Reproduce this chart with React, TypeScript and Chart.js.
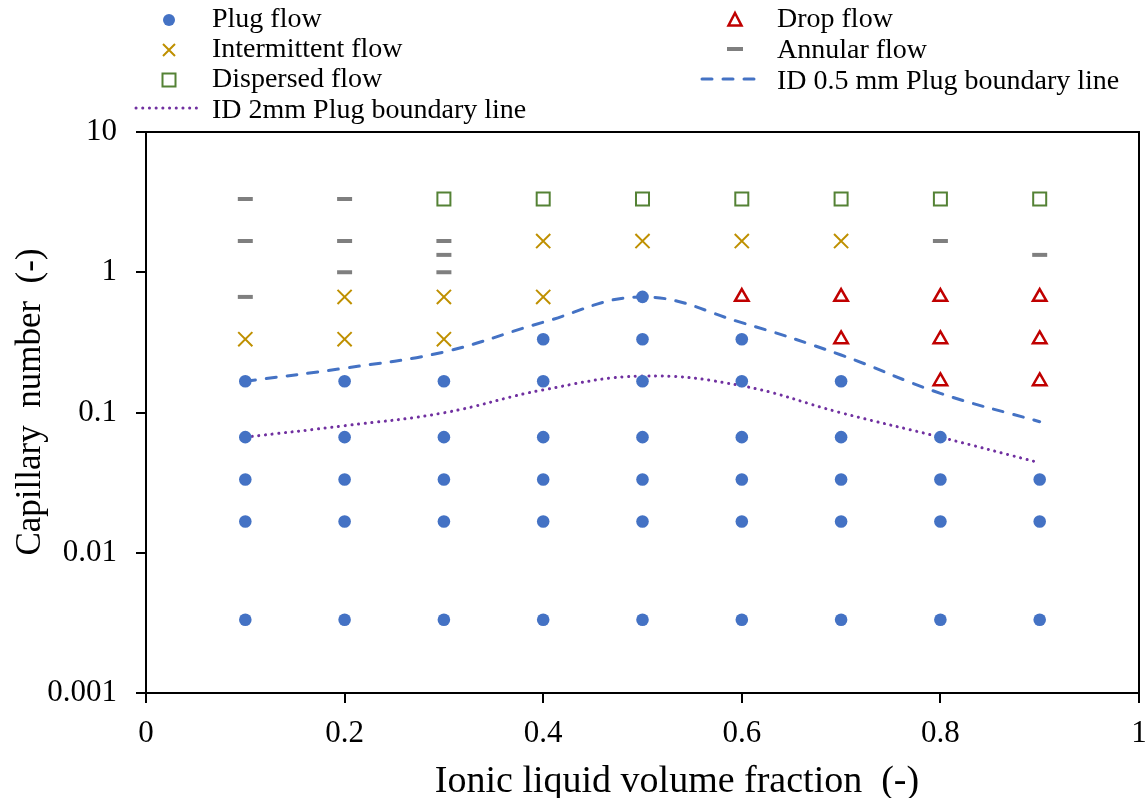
import React, { useEffect, useRef } from 'react';
import { Chart, registerables } from 'chart.js';

Chart.register(...registerables);

const FONT = "'Liberation Serif', 'Times New Roman', serif";

// Ionic liquid volume fractions (x categories)
const fractions = [0.1, 0.2, 0.3, 0.4, 0.5, 0.6, 0.7, 0.8, 0.9];

// Capillary numbers observed for each flow pattern, one list per fraction
const plugFlowCa = [
  [0.00333, 0.0167, 0.0333, 0.0667, 0.167],
  [0.00333, 0.0167, 0.0333, 0.0667, 0.167],
  [0.00333, 0.0167, 0.0333, 0.0667, 0.167],
  [0.00333, 0.0167, 0.0333, 0.0667, 0.167, 0.333],
  [0.00333, 0.0167, 0.0333, 0.0667, 0.167, 0.333, 0.667],
  [0.00333, 0.0167, 0.0333, 0.0667, 0.167, 0.333],
  [0.00333, 0.0167, 0.0333, 0.0667, 0.167],
  [0.00333, 0.0167, 0.0333, 0.0667],
  [0.00333, 0.0167, 0.0333],
];
const intermittentCa = [[0.333], [0.333, 0.667], [0.333, 0.667], [0.667, 1.67], [1.67], [1.67], [1.67], [], []];
const dispersedCa = [[], [], [3.33], [3.33], [3.33], [3.33], [3.33], [3.33], [3.33]];
const dropCa = [[], [], [], [], [], [0.667], [0.333, 0.667], [0.167, 0.333, 0.667], [0.167, 0.333, 0.667]];
const annularCa = [[0.667, 1.67, 3.33], [1.0, 1.67, 3.33], [1.0, 1.33, 1.67], [], [], [], [], [1.67], [1.33]];

// Boundary lines
const boundary05mm = [0.167, 0.207, 0.27, 0.44, 0.667, 0.437, 0.257, 0.137, 0.086];
const boundary2mm = [0.0667, 0.0805, 0.0995, 0.145, 0.182, 0.155, 0.0995, 0.0667, 0.0438];

// Axis ticks
const xTicks = [0, 0.2, 0.4, 0.6, 0.8, 1];
const yTicks = [0.001, 0.01, 0.1, 1, 10];

const COLORS = {
  plug: '#4472C4',
  intermittent: '#BF9000',
  dispersed: '#548235',
  drop: '#C00000',
  annular: '#7F7F7F',
  line05: '#4472C4',
  line2: '#7030A0',
};

const toPoints = (lists: number[][]) =>
  lists.flatMap((vals, i) => vals.map((v) => ({ x: fractions[i], y: v })));

const toLine = (vals: number[]) => vals.map((v, i) => ({ x: fractions[i], y: v }));

const framePlugin = {
  id: 'frame',
  beforeDatasetsDraw(chart: any) {
    const { ctx, chartArea: a } = chart;
    ctx.save();
    ctx.strokeStyle = '#000';
    ctx.lineWidth = 2;
    ctx.strokeRect(a.left, a.top, a.right - a.left, a.bottom - a.top);
    ctx.restore();
  },
};

const annotationsPlugin = {
  id: 'annotations',
  afterDraw(chart: any) {
    const ctx: CanvasRenderingContext2D = chart.ctx;
    ctx.save();
    // Axis titles
    ctx.fillStyle = '#000';
    ctx.textAlign = 'center';
    ctx.textBaseline = 'alphabetic';
    ctx.font = `38px ${FONT}`;
    ctx.fillText('Ionic liquid volume fraction  (-)', 677, 792);
    ctx.save();
    ctx.translate(40, 402);
    ctx.rotate(-Math.PI / 2);
    ctx.font = `35px ${FONT}`;
    ctx.fillText('Capillary  number  (-)', 0, 0);
    ctx.restore();

    // Legend
    ctx.font = `28px ${FONT}`;
    ctx.textAlign = 'left';
    const left = [
      { label: 'Plug flow', y: 27 },
      { label: 'Intermittent flow', y: 57 },
      { label: 'Dispersed flow', y: 87 },
      { label: 'ID 2mm Plug boundary line', y: 118 },
    ];
    const right = [
      { label: 'Drop flow', y: 27 },
      { label: 'Annular flow', y: 58 },
      { label: 'ID 0.5 mm Plug boundary line', y: 89 },
    ];
    left.forEach((e) => ctx.fillText(e.label, 212, e.y));
    right.forEach((e) => ctx.fillText(e.label, 777, e.y));

    // circle
    ctx.fillStyle = COLORS.plug;
    ctx.beginPath();
    ctx.arc(169, 20, 6, 0, Math.PI * 2);
    ctx.fill();
    // cross
    ctx.strokeStyle = COLORS.intermittent;
    ctx.lineWidth = 2;
    ctx.beginPath();
    ctx.moveTo(163, 44); ctx.lineTo(175, 56);
    ctx.moveTo(175, 44); ctx.lineTo(163, 56);
    ctx.stroke();
    // square
    ctx.strokeStyle = COLORS.dispersed;
    ctx.strokeRect(162.5, 73.5, 13, 13);
    // dotted line
    ctx.strokeStyle = COLORS.line2;
    ctx.lineWidth = 3;
    ctx.lineCap = 'round';
    ctx.setLineDash([0.1, 6.6]);
    ctx.beginPath();
    ctx.moveTo(136, 108); ctx.lineTo(201, 108);
    ctx.stroke();
    // dashed line
    ctx.strokeStyle = COLORS.line05;
    ctx.setLineDash([10, 11]);
    ctx.beginPath();
    ctx.moveTo(702, 79); ctx.lineTo(760, 79);
    ctx.stroke();
    ctx.setLineDash([]);
    // triangle
    ctx.strokeStyle = COLORS.drop;
    ctx.lineWidth = 2.5;
    ctx.lineCap = 'butt';
    ctx.beginPath();
    ctx.moveTo(735, 13); ctx.lineTo(741.5, 25.5); ctx.lineTo(728.5, 25.5); ctx.closePath();
    ctx.stroke();
    // annular dash
    ctx.strokeStyle = COLORS.annular;
    ctx.lineWidth = 4;
    ctx.beginPath();
    ctx.moveTo(727, 49); ctx.lineTo(743, 49);
    ctx.stroke();
    ctx.restore();
  },
};

export default function App() {
  const ref = useRef<HTMLCanvasElement>(null);

  useEffect(() => {
    if (!ref.current) return;
    const chart = new Chart(ref.current, {
      type: 'scatter',
      data: {
        datasets: [
          {
            label: 'Plug flow',
            data: toPoints(plugFlowCa),
            pointStyle: 'circle',
            pointRadius: 6.3,
            pointBorderWidth: 0,
            backgroundColor: COLORS.plug,
            borderColor: COLORS.plug,
          },
          {
            label: 'Intermittent flow',
            data: toPoints(intermittentCa),
            pointStyle: 'crossRot',
            pointRadius: 10,
            pointBorderWidth: 2,
            borderColor: COLORS.intermittent,
            backgroundColor: COLORS.intermittent,
          },
          {
            label: 'Dispersed flow',
            data: toPoints(dispersedCa),
            pointStyle: 'rect',
            pointRadius: 9.2,
            pointBorderWidth: 2,
            borderColor: COLORS.dispersed,
            backgroundColor: 'rgba(255,255,255,0)',
          },
          {
            label: 'Drop flow',
            data: toPoints(dropCa),
            pointStyle: 'triangle',
            pointRadius: 7.8,
            pointBorderWidth: 2.5,
            borderColor: COLORS.drop,
            backgroundColor: 'rgba(255,255,255,0)',
          },
          {
            label: 'Annular flow',
            data: toPoints(annularCa),
            pointStyle: 'line',
            pointRadius: 7.5,
            pointBorderWidth: 4,
            borderColor: COLORS.annular,
            backgroundColor: COLORS.annular,
          },
          {
            label: 'ID 0.5 mm Plug boundary line',
            data: toLine(boundary05mm),
            showLine: true,
            pointRadius: 0,
            borderColor: COLORS.line05,
            borderWidth: 3,
            borderDash: [10, 11],
            borderCapStyle: 'round',
            tension: 0.4,
          },
          {
            label: 'ID 2mm Plug boundary line',
            data: toLine(boundary2mm),
            showLine: true,
            pointRadius: 0,
            borderColor: COLORS.line2,
            borderWidth: 3,
            borderDash: [0.1, 6.6],
            borderCapStyle: 'round',
            tension: 0.4,
          },
        ] as any,
      },
      options: {
        animation: false,
        responsive: false,
        layout: { autoPadding: false, padding: { top: 132, right: 6, left: 0, bottom: 0 } },
        plugins: { legend: { display: false }, tooltip: { enabled: false } },
        scales: {
          x: {
            type: 'linear',
            min: 0,
            max: 1,
            afterBuildTicks: (scale: any) => {
              scale.ticks = xTicks.map((v) => ({ value: v }));
            },
            afterFit: (scale: any) => {
              scale.height = 105;
              scale.paddingLeft = 0;
              scale.paddingRight = 0;
            },
            ticks: {
              autoSkip: false,
              maxRotation: 0,
              padding: 12,
              color: '#000',
              font: { family: FONT, size: 31 },
              callback: (v: any) => String(Math.round(Number(v) * 10) / 10),
            },
            grid: {
              display: true,
              drawOnChartArea: false,
              drawTicks: true,
              tickLength: 10,
              color: '#000',
              lineWidth: 2,
            },
            border: { display: false },
          },
          y: {
            type: 'logarithmic',
            min: 0.001,
            max: 10,
            afterBuildTicks: (scale: any) => {
              scale.ticks = yTicks.map((v) => ({ value: v }));
            },
            afterFit: (scale: any) => {
              scale.width = 146;
              scale.paddingTop = 0;
              scale.paddingBottom = 0;
            },
            ticks: {
              autoSkip: false,
              padding: 19,
              color: '#000',
              font: { family: FONT, size: 31 },
              callback: (v: any) => String(Number(v)),
            },
            grid: {
              display: true,
              drawOnChartArea: false,
              drawTicks: true,
              tickLength: 10,
              color: '#000',
              lineWidth: 2,
            },
            border: { display: false },
          },
        },
      } as any,
      plugins: [framePlugin, annotationsPlugin],
    });
    return () => chart.destroy();
  }, []);

  return (
    <div style={{ position: 'absolute', left: 0, top: 0, width: 1145, height: 798, background: '#fff' }}>
      <canvas ref={ref} width={1145} height={798} style={{ display: 'block' }} />
    </div>
  );
}
